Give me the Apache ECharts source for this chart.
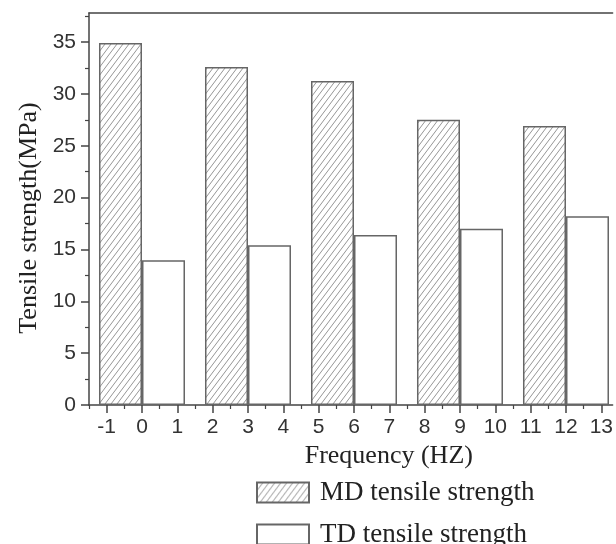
<!DOCTYPE html>
<html><head><meta charset="utf-8">
<script src="https://cdn.jsdelivr.net/npm/echarts@6/dist/echarts.min.js"></script>
<style>html,body{margin:0;padding:0;background:#fff}#c{width:616px;height:544px}</style>
</head><body><div id="c"></div>
<script>
const frequencies = [0, 3, 6, 9, 12];
const mdStrength = [34.9, 32.6, 31.25, 27.5, 26.9];
const tdStrength = [13.95, 15.4, 16.4, 17.0, 18.2];
const xTickValues = [-1,0,1,2,3,4,5,6,7,8,9,10,11,12,13];
const xMinorValues = [-1.5,-0.5,0.5,1.5,2.5,3.5,4.5,5.5,6.5,7.5,8.5,9.5,10.5,11.5,12.5];
const yTickValues = [0,5,10,15,20,25,30,35];

function hatch(){
  const w=6,h=8;
  const c=document.createElement('canvas'); c.width=w; c.height=h;
  const g=c.getContext('2d');
  g.fillStyle='#fff'; g.fillRect(0,0,w,h);
  g.strokeStyle='#8a8a8a'; g.lineWidth=0.9;
  g.beginPath();
  g.moveTo(0,h); g.lineTo(w,0);
  g.moveTo(-w,h); g.lineTo(0,0);
  g.moveTo(w,h); g.lineTo(2*w,0);
  g.stroke();
  return c;
}
const axisCol='#444';
const legendText={fontFamily:'Liberation Serif',fontSize:27,color:'#222',padding:[0,0,0,6]};
const chart=echarts.init(document.getElementById('c'),null,{renderer:'canvas'});
chart.setOption({
  animation:false,
  backgroundColor:'#fff',
  grid:{left:89,top:13,right:0,bottom:139,containLabel:false},
  legend:[
    {left:256, top:479, padding:0, itemWidth:52, itemHeight:20, icon:'rect',
     textStyle:legendText, data:['MD tensile strength']},
    {left:256, top:521, padding:0, itemWidth:52, itemHeight:20, icon:'rect',
     textStyle:legendText, data:['TD tensile strength']}
  ],
  xAxis:[
    {type:'value',min:-1.5,max:13.32,position:'bottom',
     name:'Frequency (HZ)',nameLocation:'middle',nameGap:35,
     nameTextStyle:{fontFamily:'Liberation Serif',fontSize:26,color:'#222',padding:[0,0,0,76]},
     axisLine:{show:true,onZero:false,lineStyle:{color:axisCol,width:1.5}},
     axisTick:{show:true,inside:false,length:8,customValues:xTickValues,lineStyle:{color:axisCol,width:1.5}},
     axisLabel:{show:true,margin:12,customValues:xTickValues,fontFamily:'Liberation Sans',fontSize:21,color:'#333'},
     splitLine:{show:false}},
    {type:'value',min:-1.5,max:13.32,position:'bottom',
     axisLine:{show:false,onZero:false},
     axisTick:{show:true,length:4,customValues:xMinorValues,lineStyle:{color:axisCol,width:1.2}},
     axisLabel:{show:false},splitLine:{show:false}},
    {type:'value',min:-1.5,max:13.32,position:'top',
     axisLine:{show:true,onZero:false,lineStyle:{color:axisCol,width:1.5}},
     axisTick:{show:false},axisLabel:{show:false},splitLine:{show:false}}
  ],
  yAxis:{type:'value',min:0,max:37.8,interval:5,
    name:'Tensile strength(MPa)',nameLocation:'middle',nameGap:46,
    nameTextStyle:{fontFamily:'Liberation Serif',fontSize:26,color:'#222',padding:[0,18,0,0]},
    axisLine:{show:true,onZero:false,lineStyle:{color:axisCol,width:1.5}},
    axisTick:{show:true,length:8,customValues:yTickValues,lineStyle:{color:axisCol,width:1.5}},
    minorTick:{show:true,splitNumber:2,length:4,lineStyle:{color:axisCol,width:1.2}},
    axisLabel:{margin:13,customValues:yTickValues,fontFamily:'Liberation Sans',fontSize:21,color:'#333'},
    splitLine:{show:false},minorSplitLine:{show:false}},
  series:[
    {name:'MD tensile strength',type:'bar',xAxisIndex:0,barWidth:43,barGap:'0%',
     data:frequencies.map((f,i)=>[f,mdStrength[i]]),
     itemStyle:{color:{image:hatch(),repeat:'repeat'},borderColor:'#666',borderWidth:1.5}},
    {name:'TD tensile strength',type:'bar',xAxisIndex:0,barWidth:43,barGap:'0%',
     data:frequencies.map((f,i)=>[f,tdStrength[i]]),
     itemStyle:{color:'#fff',borderColor:'#666',borderWidth:1.5}}
  ]
});
</script></body></html>
